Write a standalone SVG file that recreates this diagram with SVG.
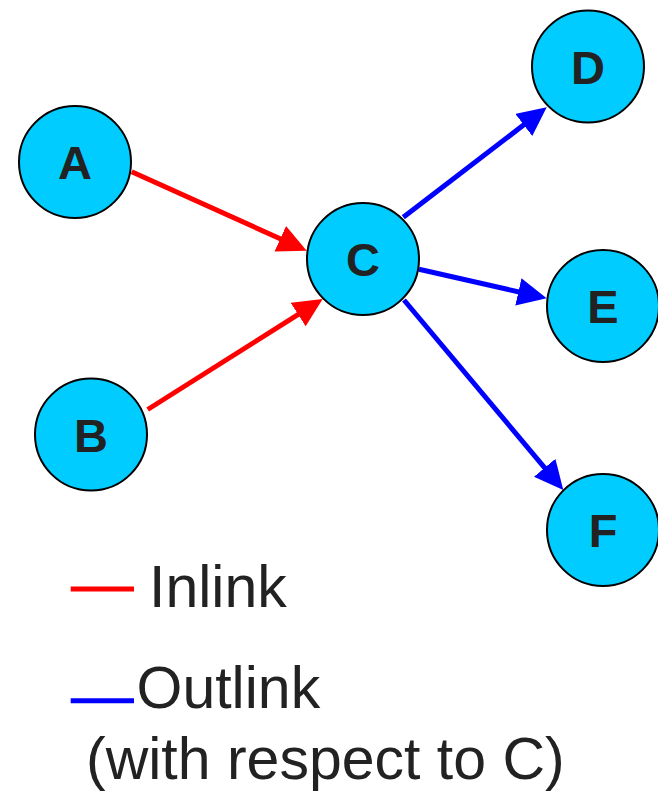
<svg xmlns="http://www.w3.org/2000/svg" width="658" height="793" viewBox="0 0 658 793">
  <style>
    .node circle { fill: #00ccff; stroke: #000; stroke-width: 2; }
    .node text { font-family: "Liberation Sans", Arial, sans-serif; font-weight: bold; font-size: 47px; fill: #222; text-anchor: middle; }
    .in { stroke: #ff0000; stroke-width: 5; fill: none; marker-end: url(#arrow-red); }
    .out { stroke: #0000ff; stroke-width: 5; fill: none; marker-end: url(#arrow-blue); }
    .legend { font-family: "Liberation Sans", Arial, sans-serif; font-size: 59px; fill: #222; }
  </style>
  <defs>
    <marker id="arrow-red" markerUnits="userSpaceOnUse" markerWidth="29" markerHeight="28" refX="3" refY="14" orient="auto">
      <path d="M0,0 L29,14 L0,28 z" fill="#ff0000"/>
    </marker>
    <marker id="arrow-blue" markerUnits="userSpaceOnUse" markerWidth="29" markerHeight="28" refX="3" refY="14" orient="auto">
      <path d="M0,0 L29,14 L0,28 z" fill="#0000ff"/>
    </marker>
  </defs>

  <!-- links into and out of C -->
  <g id="connectors">
    <line class="in" x1="131.7" y1="171.7" x2="283.0" y2="240.0"/>
    <line class="in" x1="147.7" y1="409.5" x2="300.7" y2="312.9"/>
    <line class="out" x1="403.3" y1="217.3" x2="526.1" y2="123.1"/>
    <line class="out" x1="419" y1="269.3" x2="521.3" y2="292.5"/>
    <line class="out" x1="404" y1="300" x2="546.6" y2="470.1"/>
  </g>

  <g id="node-A" class="node">
    <circle cx="75" cy="162" r="56"/>
    <text x="75" y="179">A</text>
  </g>
  <g id="node-B" class="node">
    <circle cx="91" cy="434.5" r="56"/>
    <text x="91" y="451.5">B</text>
  </g>
  <g id="node-C" class="node">
    <circle cx="363" cy="259" r="56"/>
    <text x="363" y="276">C</text>
  </g>
  <g id="node-D" class="node">
    <circle cx="588" cy="66.5" r="56"/>
    <text x="588" y="83.5">D</text>
  </g>
  <g id="node-E" class="node">
    <circle cx="603" cy="306" r="56"/>
    <text x="603" y="323">E</text>
  </g>
  <g id="node-F" class="node">
    <circle cx="603" cy="530" r="56"/>
    <text x="603" y="547">F</text>
  </g>

  <!-- legend -->
  <g id="legend">
    <line x1="70.7" y1="589" x2="134" y2="589" stroke="#ff0000" stroke-width="5"/>
    <text class="legend" x="149" y="607">Inlink</text>
    <line x1="70.7" y1="700.7" x2="134" y2="700.7" stroke="#0000ff" stroke-width="5"/>
    <text class="legend" x="136.5" y="708">Outlink</text>
    <text class="legend" x="86" y="779">(with respect to C)</text>
  </g>
</svg>
